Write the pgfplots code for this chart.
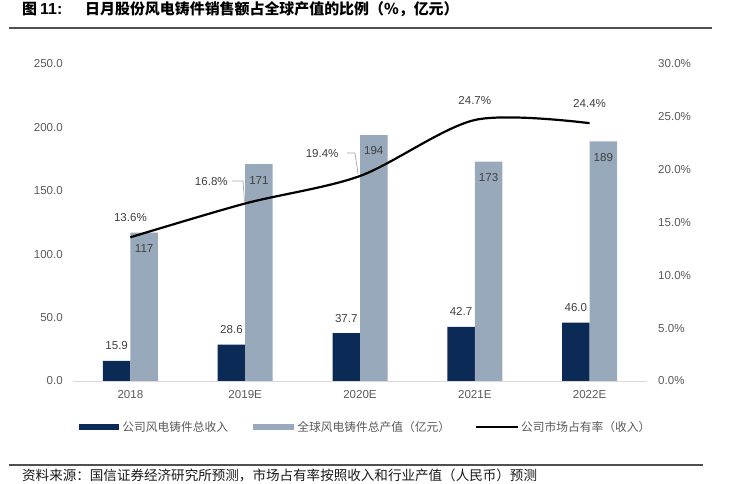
\documentclass[border=0pt]{standalone}
\usepackage{fontspec}
\setmainfont{Liberation Sans}
\newfontfamily\cjk{Noto Sans CJK SC}
\usepackage{pgfplots}
\pgfplotsset{compat=1.18}
\usepackage{pgfplotstable}
\definecolor{navy}{HTML}{0C2A56}
\definecolor{steel}{HTML}{97A9BA}
\definecolor{txt}{HTML}{595959}
\definecolor{lbl}{HTML}{404040}
\definecolor{rule}{HTML}{505050}

\pgfplotstableread{
x comp glob
0 15.9 117
1 28.6 171
2 37.7 194
3 42.7 173
4 46.0 189
}\bars
\pgfplotstableread{
x share dx dy
0 13.6 0 20
1 16.8 -34 22.5
2 19.4 -38 23
3 24.7 0 20
4 24.4 0 20
}\sharetab

\pgfplotsset{base/.style={
  at={(73bp,103bp)}, anchor=south west, scale only axis,
  width=574bp, height=317bp, xmin=-0.5, xmax=4.5,
  /pgf/number format/assume math mode=true,
  tick label style={font=\fontsize{11.6}{14}\selectfont, text=txt},
  major tick length=0pt, clip=false,
}}

\begin{document}
\begin{tikzpicture}
\path[use as bounding box] (0,0) rectangle (730bp,484bp);

\begin{axis}[base,
  ymin=0, ymax=250, ytick={0,50,...,250},
  xtick={0,...,4}, xticklabels={2018,2019E,2020E,2021E,2022E},
  axis x line*=bottom, axis y line*=left,
  x axis line style={draw=black!15, line width=0.8bp},
  y axis line style={draw=none},
  yticklabel={\pgfmathprintnumber[fixed,fixed zerofill,precision=1]{\tick}},
  yticklabel style={inner sep=0pt, anchor=east, xshift=-10bp},
  xticklabel style={inner sep=0pt, anchor=north, yshift=-9.5bp},
]
\addplot[ybar, fill=navy, draw=none, bar width=27.5bp, bar shift=-13.75bp,
  nodes near coords={\pgfmathprintnumber[fixed,fixed zerofill,precision=1]{\pgfplotspointmeta}},
  every node near coord/.append style={anchor=center, xshift=-13.75bp, yshift=15bp, inner sep=0pt,
    font=\fontsize{11.6}{14}\selectfont, text=lbl}]
  table[x=x,y=comp]{\bars};
\addplot[ybar, fill=steel, draw=none, bar width=27.5bp, bar shift=13.75bp,
  nodes near coords={\pgfmathprintnumber[fixed,precision=0]{\pgfplotspointmeta}},
  every node near coord/.append style={anchor=center, xshift=13.75bp, yshift=-16bp, inner sep=0pt,
    font=\fontsize{11.6}{14}\selectfont, text=lbl}]
  table[x=x,y=glob]{\bars};
\end{axis}

\begin{axis}[base,
  ymin=0, ymax=30, ytick={0,5,...,30},
  axis x line=none, axis y line*=right,
  y axis line style={draw=none},
  yticklabel={\pgfmathprintnumber[fixed,fixed zerofill,precision=1]{\tick}\%},
  yticklabel style={inner sep=0pt, anchor=west, xshift=11bp},
  legend columns=3,
  legend cell align=left,
  legend style={draw=none, fill=none, inner sep=0pt, outer sep=0pt,
    at={(axis description cs:0.01045,-0.1451)}, anchor=west,
    font=\cjk\fontsize{11.8}{14}\selectfont, text=txt,
    nodes={inner sep=0pt}, column sep=0pt,
    /tikz/every even column/.append style={column sep=24.7bp}},
]
\addlegendimage{legend image code/.code={\fill[navy] (0bp,-2.6bp) rectangle (39bp,2.6bp); \path (43bp,0bp);}}
\addlegendentry{公司风电铸件总收入}
\addlegendimage{legend image code/.code={\fill[steel] (0bp,-2.6bp) rectangle (40bp,2.6bp); \path (44bp,0bp);}}
\addlegendentry{全球风电铸件总产值（亿元）}
\addlegendimage{legend image code/.code={\draw[black, line width=2.2bp] (0bp,0bp) -- (42bp,0bp); \path (45bp,0bp);}}
\addlegendentry{公司市场占有率（收入）}

\addplot[forget plot, black, line width=2.2bp, smooth, mark=none,
  visualization depends on={\thisrow{dx} \as \dx},
  visualization depends on={\thisrow{dy} \as \dy},
  nodes near coords={\pgfmathprintnumber[fixed,fixed zerofill,precision=1]{\pgfplotspointmeta}\%},
  every node near coord/.append style={anchor=center, xshift=\dx pt, yshift=\dy pt,
    inner sep=0pt, font=\fontsize{11.6}{14}\selectfont, text=lbl}]
  table[x=x,y=share]{\sharetab};
\draw[black!35, line width=0.7bp] (axis cs:0.885,18.93) -- (axis cs:0.981,18.93) -- (axis cs:0.994,17.0);
\draw[black!35, line width=0.7bp] (axis cs:1.887,21.58) -- (axis cs:1.956,21.58) -- (axis cs:1.983,19.6);
\end{axis}

% title and rules
\node[anchor=west, inner sep=0pt] at (22bp,475bp) {\cjk\bfseries\fontsize{15}{17}\selectfont 图};
\node[anchor=west, inner sep=0pt] at (40bp,475bp) {\bfseries\fontsize{16}{18}\selectfont 11:};
\node[anchor=west, inner sep=0pt] at (85bp,475bp) {\cjk\bfseries\fontsize{15}{17}\selectfont 日月股份风电铸件销售额占全球产值的比例（\%，亿元）};
\draw[rule, line width=1.3bp] (9bp,456bp) -- (712bp,456bp);
\draw[rule, line width=1.3bp] (9bp,19bp) -- (703bp,19bp);
\node[anchor=west, inner sep=0pt, text=black!90] at (22bp,9bp) {\cjk\fontsize{13.6}{15}\selectfont 资料来源：国信证券经济研究所预测，市场占有率按照收入和行业产值（人民币）预测};
\end{tikzpicture}
\end{document}
